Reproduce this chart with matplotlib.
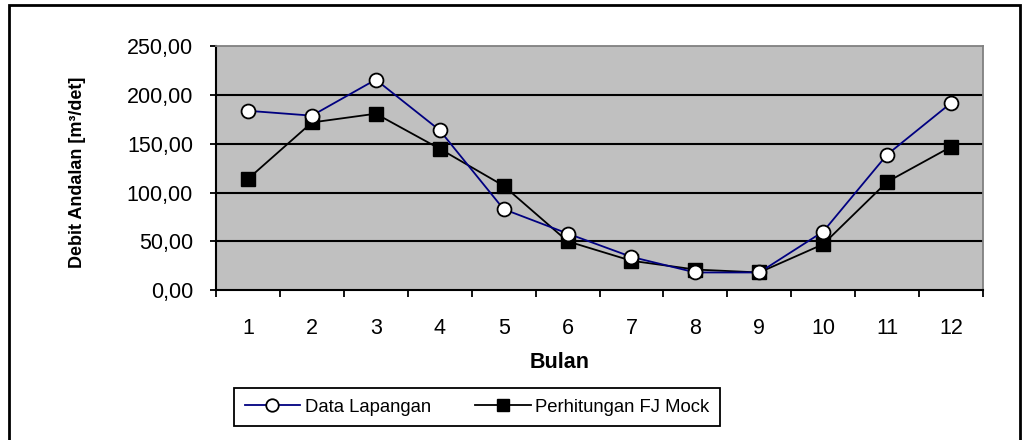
import matplotlib.pyplot as plt
import numpy as np
from matplotlib.patches import Rectangle
from matplotlib.ticker import FuncFormatter

plt.rcParams["font.family"] = ["Liberation Sans", "DejaVu Sans"]

bulan = [1, 2, 3, 4, 5, 6, 7, 8, 9, 10, 11, 12]
data_lapangan = [184, 179, 216, 164, 83, 58, 34, 18, 18, 60, 139, 192]
fj_mock = [114, 172, 181, 145, 107, 50, 30, 21, 18, 47, 111, 147]
y_ticks = [0, 50, 100, 150, 200, 250]

W, H = 1022, 440
fig = plt.figure(figsize=(W / 100, H / 100), dpi=100)
ax = fig.add_axes([216 / W, 1 - 290 / H, (983 - 216) / W, (290 - 46.5) / H])
ax.set_facecolor("#c0c0c0")

x = np.array(bulan)
ax.plot(x, data_lapangan, color="#000080", lw=1.3, marker="o", markersize=10,
        markerfacecolor="white", markeredgecolor="black", markeredgewidth=1.3,
        label="Data Lapangan", zorder=4)
ax.plot(x, fj_mock, color="black", lw=1.3, marker="s", markersize=10,
        markerfacecolor="black", markeredgecolor="black",
        label="Perhitungan FJ Mock", zorder=3)

ax.set_xlim(0.5, 12.5)
ax.set_ylim(0, 250)
ax.set_yticks(y_ticks)
ax.yaxis.set_major_formatter(FuncFormatter(lambda v, _: f"{v:.2f}".replace(".", ",")))
for v in y_ticks[1:-1]:
    ax.axhline(v, color="black", lw=1.5, zorder=1)

# ticks sit between months, labels sit on the months
ax.set_xticks(np.arange(0.5, 13, 1))
ax.set_xticklabels([])
ax.set_xticks(x, minor=True)
ax.set_xticklabels([str(b) for b in bulan], minor=True)
ax.tick_params(axis="x", which="major", direction="out", length=5, width=1.3, color="black")
ax.tick_params(axis="x", which="minor", length=0, pad=20, labelsize=15.5)
ax.tick_params(axis="y", direction="out", length=4.5, width=1.3, pad=12, labelsize=15.5)

for side in ("left", "bottom"):
    ax.spines[side].set_color("black")
    ax.spines[side].set_linewidth(1.5)
for side in ("top", "right"):
    ax.spines[side].set_color("#808080")
    ax.spines[side].set_linewidth(1.3)

fig.text(560 / W, 1 - 363 / H, "Bulan", ha="center", va="center",
         fontsize=15.5, fontweight="bold")
fig.text(77 / W, 1 - 172 / H, "Debit Andalan [m\u00b3/det]", rotation=90,
         ha="center", va="center", fontsize=13, fontweight="bold")

handles, labels = ax.get_legend_handles_labels()
leg = fig.legend(handles, labels, loc="center", ncol=2,
                 bbox_to_anchor=(477 / W, 1 - 407 / H),
                 fontsize=13.3, fancybox=False, framealpha=1, edgecolor="black",
                 handlelength=3.0, columnspacing=2.4, borderpad=0.55, handletextpad=0.25,
                 markerscale=0.9)
leg.get_frame().set_linewidth(1.3)

fig.patches.append(Rectangle((8.5 / W, -0.05), (1019.5 - 8.5) / W, 1.05 - 5 / H,
                             transform=fig.transFigure, fill=False, edgecolor="black", lw=2))

fig.savefig("out.png", dpi=100)
